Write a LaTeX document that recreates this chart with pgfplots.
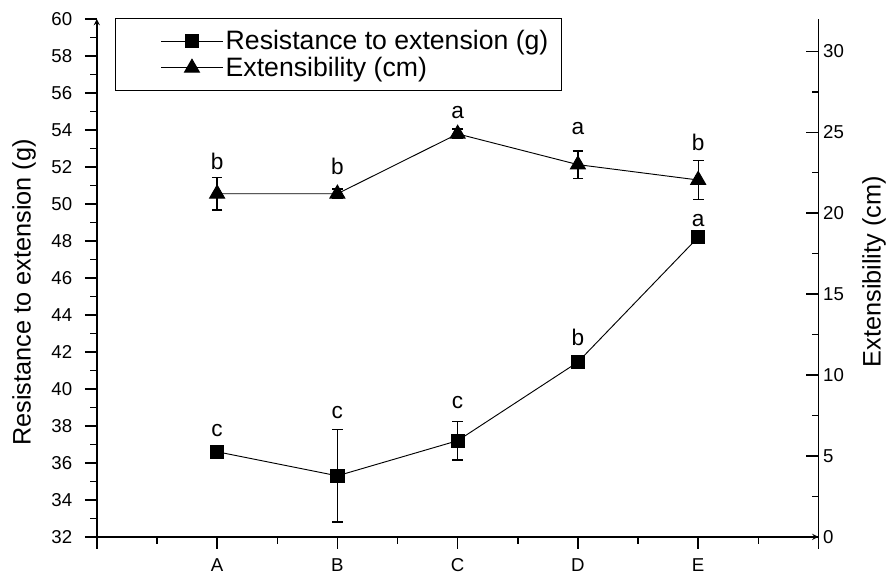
\documentclass[border=0pt]{standalone}
\usepackage{fontspec}
\setmainfont{Liberation Sans}
\usepackage{pgfplots}
\usepackage{pgfplotstable}
\pgfplotsset{compat=1.18}

% x: A..E at 1..5, e = error, l = letter, ly = letter height
\pgfplotstableread{
x y e l ly
1 36.6 0.0 c 37.75
2 35.3 2.5 c 38.7
3 37.2 1.05 c 39.25
4 41.45 0.0 b 42.8
5 48.2 0.0 a 49.1
}\resist
\pgfplotstableread{
x y e l ly
1 21.2 1.0 b 23.2
2 21.2 0.3 b 22.9
3 24.9 0.3 a 26.2
4 23.0 0.85 a 25.2
5 22.05 1.2 b 24.4
}\extens

\pgfplotsset{
  base/.style={
    width=542pt, height=389pt, scale only axis,
    xmin=0, xmax=6,
    axis line style={-, line width=1.1pt},
    major tick style={line width=1.1pt, black},
    minor tick style={line width=1.1pt, black},
    major tick length=9pt, minor tick length=5pt,
    /pgf/number format/assume math mode=true,
    tick label style={font=\fontsize{14}{16}\selectfont},
    label style={font=\fontsize{19}{23}\selectfont},
  },
  letters/.style={draw=none, mark=none, nodes near coords,
    point meta=explicit symbolic,
    nodes near coords style={anchor=center, font=\fontsize{17}{20}\selectfont}},
}

\begin{document}
\begin{tikzpicture}
\begin{axis}[base,
  ymin=32, ymax=60,
  axis x line=bottom, axis y line=left,
  tick align=outside,
  xtick={0,...,6}, xticklabels={,A,B,C,D,E,},
  minor x tick num=1,
  ytick={32,34,...,60}, minor y tick num=1,
  xticklabel style={yshift=-4pt},
  yticklabel style={xshift=-6pt},
  ylabel={Resistance to extension (g)},
  ylabel style={at={(axis description cs:-0.101,0.472)}, anchor=center},
]
\addplot[black, line width=0.7pt, mark=square*, mark size=5pt,
  error bars/.cd, y dir=both, y explicit,
  error bar style={line width=1pt, black},
  error mark options={rotate=90, mark size=4pt, line width=1pt, black}]
  table[x=x, y=y, y error=e] {\resist};
\addplot[letters] table[x=x, y=ly, meta=l] {\resist};
\coordinate (ll) at (rel axis cs:0,0);
\coordinate (ur) at (rel axis cs:1,1);
\end{axis}

\begin{axis}[base,
  ymin=0, ymax=32,
  axis x line=none, axis y line*=right,
  tick align=inside,
  ytick={0,5,...,30}, minor y tick num=1,
  ylabel={Extensibility (cm)},
  ylabel style={at={(axis description cs:1.077,0.512)}, anchor=center},
  legend style={at={(axis description cs:0.025,1.002)}, anchor=north west,
    draw=black, line width=1.1pt, font=\fontsize{20}{22}\selectfont,
    inner xsep=8pt, inner ysep=7pt, row sep=0pt,
    cells={anchor=west}},
  legend image code/.code={
    \path (-26pt,0pt);
    \draw[mark repeat=2, mark phase=2, #1]
      plot coordinates {(0pt,0pt) (23pt,0pt) (46pt,0pt)};},
]
\addlegendimage{black, line width=0.7pt, mark=square*, mark size=5pt}
\addlegendentry{Resistance to extension (g)\hspace{8pt}}
\addplot[black, line width=0.7pt, mark=triangle*, mark size=6.5pt,
  error bars/.cd, y dir=both, y explicit,
  error bar style={line width=1pt, black},
  error mark options={rotate=90, mark size=4pt, line width=1pt, black}]
  table[x=x, y=y, y error=e] {\extens};
\addlegendentry{Extensibility (cm)}
\addplot[letters, forget plot] table[x=x, y=ly, meta=l] {\extens};
\end{axis}
\pgfresetboundingbox
\path ([shift={(-72.75pt,-32pt)}]ll) rectangle ([shift={(56pt,14.25pt)}]ur);
\end{tikzpicture}
\end{document}
